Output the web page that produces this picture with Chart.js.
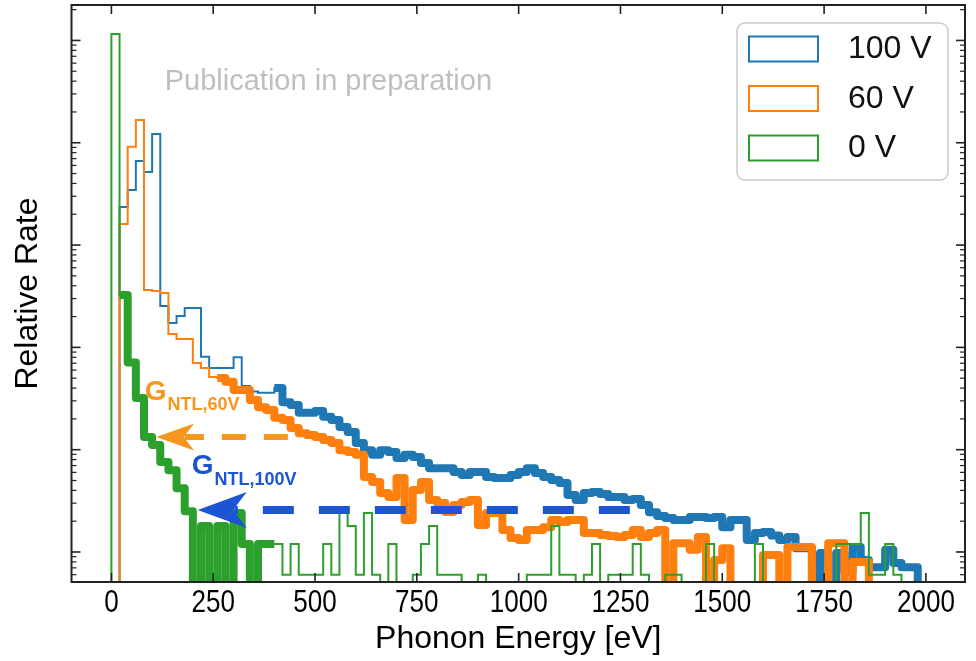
<!DOCTYPE html>
<html>
<head>
<meta charset="utf-8">
<title>Relative rate vs phonon energy</title>
<script src="https://cdn.jsdelivr.net/npm/chart.js@4.4.1/dist/chart.umd.min.js"></script>
<style>
	html, body { margin: 0; padding: 0; background: #fff; }
	#wrap { width: 976px; height: 661px; }
</style>
</head>
<body>
<div id="wrap"><canvas id="myChart" width="976" height="661"></canvas></div>
<script>
	// 20 eV bins, left edges + last right edge
	const binEdges = [0, 20, 40, 60, 80, 100, 120, 140, 160, 180, 200, 220, 240, 260, 280, 300, 320, 340, 360, 380,
		400, 420, 440, 460, 480, 500, 520, 540, 560, 580, 600, 620, 640, 660, 680, 700, 720, 740, 760, 780,
		800, 820, 840, 860, 880, 900, 920, 940, 960, 980, 1000, 1020, 1040, 1060, 1080, 1100, 1120, 1140, 1160, 1180,
		1200, 1220, 1240, 1260, 1280, 1300, 1320, 1340, 1360, 1380, 1400, 1420, 1440, 1460, 1480, 1500, 1520, 1540, 1560, 1580,
		1600, 1620, 1640, 1660, 1680, 1700, 1720, 1740, 1760, 1780, 1800, 1820, 1840, 1860, 1880, 1900, 1920, 1940, 1960, 1980, 2000];

	const seriesNames = ['100 V', '60 V', '0 V'];

	const rate100V = [0, 2360, 3460, 6640, 5180, 12200, 254, 173, 203, 243,
		243, 81, 63, 63, 63, 80, 42, 37, 36, 36,
		40, 29, 27.3, 22.9, 22.9, 23.9, 21, 19.5, 16.7, 14.9,
		11.6, 9.9, 8.9, 9.9, 9.5, 8.3, 8.9, 8.5, 7.4, 6.6,
		6.6, 6.6, 6.05, 5.66, 6.05, 6.05, 5.41, 5.29, 5.29, 5.66,
		6.05, 6.6, 5.92, 5.41, 5.05, 4.73, 3.6, 3.22, 3.77, 3.86,
		3.69, 3.45, 3.45, 3.22, 3.3, 2.88, 2.45, 2.25, 2.15, 2.05,
		2.05, 2.2, 2.2, 2.15, 2.2, 1.75, 2.05, 2.05, 1.31, 1.53,
		1.57, 1.45, 1.31, 1.4, 1.09, 1.09, 0, 0.98, 0, 0.98,
		0.64, 1.12, 0.835, 0.71, 0.71, 1.05, 0.78, 0.71, 0.71, 0];

	const rate60V = [0, 1610, 9160, 16700, 364, 356, 340, 135, 121, 121,
		70.4, 62.9, 51.4, 50.2, 46, 38.3, 38.3, 30.6, 26, 24.4,
		20.5, 19.5, 16.3, 14.5, 13.9, 13.3, 12.4, 11.6, 9.9, 9.5,
		8.9, 5.41, 4.83, 3.77, 3.45, 5.29, 2.05, 4.04, 4.83, 3.22,
		3.01, 2.46, 2.88, 3.08, 3.22, 1.84, 2.4, 2.4, 1.64, 1.37,
		1.31, 1.64, 1.64, 1.75, 2.05, 1.96, 2.05, 2.05, 1.53, 1.53,
		1.47, 1.43, 1.4, 1.47, 1.64, 1.4, 1.53, 1.64, 0, 1.22,
		1.22, 1.05, 1.4, 0, 0.835, 1.09, 0, 0, 0, 0,
		0.935, 0.935, 0, 1.12, 1.12, 1.12, 0, 0, 1.22, 1.22,
		0, 0.8, 0.8, 0, 0, 0, 0, 0, 0, 0];

	const rate0V = [115800, 325, 71, 32, 13.3, 11.1, 7.6, 6.3, 4.2, 2.5,
		0, 1.8, 0, 1.8, 0, 2.4, 1.2, 0, 1.2, 1.2,
		1.2, 0.6, 1.2, 0.6, 0.6, 0.6, 1.2, 0.6, 2.4, 1.8,
		0.6, 2.4, 0.6, 0, 1.2, 0, 0, 0.6, 1.2, 1.8,
		0.6, 0.6, 0.6, 0, 0, 0.6, 0, 0, 0, 0,
		0, 0.6, 0.6, 0.6, 1.8, 0.6, 0.6, 0, 0.6, 1.2,
		0, 0.6, 0.6, 0.6, 1.2, 0.6, 0, 0, 0.6, 0.6,
		0, 0, 0, 1.2, 0, 0, 0, 0, 0, 1.2,
		0, 0, 0, 0, 0, 0, 0, 0, 0, 1.2,
		1.2, 1.2, 2.4, 0.6, 0.6, 1.2, 0.6, 0, 0, 0];

	// energy windows drawn with the thick line [eV]
	const fit100V = [400, 2000];
	const fit60V = [260, 1880];
	const fit0V = [20, 400];

	const xTickValues = [0, 250, 500, 750, 1000, 1250, 1500, 1750, 2000];

	const colors = ['#1f77b4', '#ff7f0e', '#2ca02c'];
	const FLOOR = 1e-3; // empty bins: below the log axis, clipped away
	const labelFont = "'Liberation Sans', Arial, sans-serif";

	function histPoints(values) {
		const pts = [{x: binEdges[0], y: FLOOR}];
		values.forEach((v, k) => pts.push({x: binEdges[k], y: v > 0 ? v : FLOOR}));
		pts.push({x: binEdges[values.length], y: FLOOR});
		return pts;
	}

	function rangePoints(values, range) {
		const pts = [];
		let last = FLOOR, lastEdge = range[0];
		values.forEach((v, k) => {
			if (binEdges[k] >= range[0] && binEdges[k + 1] <= range[1]) {
				last = v > 0 ? v : FLOOR;
				pts.push({x: binEdges[k], y: last});
				lastEdge = binEdges[k + 1];
			}
		});
		pts.push({x: lastEdge, y: last});
		return pts;
	}

	function lineSet(label, data, color, width, order) {
		return {
			label: label,
			data: data,
			borderColor: color,
			backgroundColor: color,
			borderWidth: width,
			borderJoinStyle: width > 3 ? 'round' : 'miter',
			pointRadius: 0,
			pointHoverRadius: 0,
			fill: false,
			stepped: true,
			clip: 0,
			order: order
		};
	}

	const datasets = [
		lineSet(seriesNames[0], histPoints(rate100V), colors[0], 2, 6),
		lineSet(seriesNames[0] + ' fit', rangePoints(rate100V, fit100V), colors[0], 8, 5),
		lineSet(seriesNames[1], histPoints(rate60V), colors[1], 2, 4),
		lineSet(seriesNames[1] + ' fit', rangePoints(rate60V, fit60V), colors[1], 8, 3),
		lineSet(seriesNames[2], histPoints(rate0V), colors[2], 2, 2),
		lineSet(seriesNames[2] + ' fit', rangePoints(rate0V, fit0V), colors[2], 8, 1)
	];

	// inward ticks, frame, narrow tick labels, legend and the annotations
	const decor = {
		id: 'decor',
		afterDatasetsDraw(chart) {
			const {ctx, chartArea: a, scales: {x, y}} = chart;
			ctx.save();

			function seg(x0, y0, x1, y1) {
				ctx.beginPath(); ctx.moveTo(x0, y0); ctx.lineTo(x1, y1); ctx.stroke();
			}

			ctx.strokeStyle = '#222';
			ctx.lineWidth = 1.6;
			x.ticks.forEach(t => {
				const px = x.getPixelForValue(t.value);
				seg(px, a.bottom, px, a.bottom - 9);
				seg(px, a.top, px, a.top + 9);
			});
			for (let d = -1; d <= 6; d++) {
				for (let m = 1; m <= 9; m++) {
					const v = m * Math.pow(10, d);
					if (v < y.min || v > y.max) continue;
					const py = y.getPixelForValue(v);
					const len = m === 1 ? 9 : 5;
					ctx.lineWidth = m === 1 ? 1.6 : 1.2;
					seg(a.left, py, a.left + len, py);
					seg(a.right, py, a.right - len, py);
				}
			}
			ctx.lineWidth = 2;
			ctx.strokeRect(a.left, a.top, a.right - a.left, a.bottom - a.top);

			// tick labels in a condensed face (squeezed horizontally)
			ctx.fillStyle = '#000';
			ctx.font = '31px ' + labelFont;
			ctx.textAlign = 'center';
			ctx.textBaseline = 'alphabetic';
			x.ticks.forEach(t => {
				ctx.save();
				ctx.translate(x.getPixelForValue(t.value), a.bottom + 30);
				ctx.scale(0.84, 1);
				ctx.fillText(String(t.value), 0, 0);
				ctx.restore();
			});

			// watermark
			ctx.textAlign = 'left';
			ctx.fillStyle = '#bfbfbf';
			ctx.font = '29px ' + labelFont;
			ctx.fillText('Publication in preparation', x.getPixelForValue(131), y.getPixelForValue(32800));

			function gLabel(sub, xv, yv, color, drop) {
				const px = x.getPixelForValue(xv), py = y.getPixelForValue(yv);
				ctx.fillStyle = color;
				ctx.font = 'bold 28px ' + labelFont;
				ctx.fillText('G', px, py);
				const w = ctx.measureText('G').width;
				ctx.font = 'bold 18px ' + labelFont;
				ctx.fillText(sub, px + w + 1, py + drop);
			}

			function arrow(fromE, toE, yv, color, width, dash, offset, headLen, headHalf) {
				const py = y.getPixelForValue(yv);
				const tail = x.getPixelForValue(fromE), tip = x.getPixelForValue(toE);
				ctx.strokeStyle = color;
				ctx.fillStyle = color;
				ctx.lineWidth = width;
				ctx.setLineDash(dash);
				ctx.lineDashOffset = offset;
				seg(tail, py, tip + headLen * 0.75, py);
				ctx.setLineDash([]);
				ctx.beginPath();
				ctx.moveTo(tip, py);
				ctx.lineTo(tip + headLen, py - headHalf);
				ctx.lineTo(tip + headLen * 0.72, py);
				ctx.lineTo(tip + headLen, py + headHalf);
				ctx.closePath();
				ctx.fill();
			}

			gLabel('NTL,60V', 82, 30.6, '#f7961c', 10);
			arrow(475, 110, 13.3, '#f7961c', 6, [24, 18], 25, 38, 13.5);
			gLabel('NTL,100V', 197, 5.79, '#1b55d3', 11);
			arrow(1273, 212, 2.57, '#1b55d3', 8, [31, 25], 0, 49, 18);

			// legend, upper right
			const lx = a.right - 228, ly = a.top + 18, lw = 211, lh = 157;
			ctx.beginPath();
			ctx.roundRect(lx, ly, lw, lh, 8);
			ctx.fillStyle = 'rgba(255,255,255,0.8)';
			ctx.fill();
			ctx.strokeStyle = '#cccccc';
			ctx.lineWidth = 1.5;
			ctx.stroke();
			ctx.font = '32px ' + labelFont;
			ctx.textBaseline = 'middle';
			seriesNames.forEach((name, i) => {
				const cy = ly + 25.5 + i * 49.5;
				ctx.strokeStyle = colors[i];
				ctx.lineWidth = 2;
				ctx.fillStyle = '#fff';
				ctx.fillRect(lx + 12, cy - 12, 69, 25);
				ctx.strokeRect(lx + 12, cy - 12, 69, 25);
				ctx.fillStyle = '#111';
				ctx.fillText(name, lx + 111, cy + 1);
			});

			ctx.restore();
		}
	};

	const ctx = document.getElementById('myChart').getContext('2d');
	const myChart = new Chart(ctx, {
		type: 'line',
		data: {datasets: datasets},
		plugins: [decor],
		options: {
			responsive: false,
			animation: false,
			events: [],
			layout: {padding: {top: 5, right: 11, left: 0, bottom: 0}},
			plugins: {legend: {display: false}, tooltip: {enabled: false}},
			scales: {
				x: {
					type: 'linear',
					min: -98,
					max: 2096,
					afterBuildTicks: s => { s.ticks = xTickValues.map(v => ({value: v})); },
					afterFit: s => { s.height = 79; },
					grid: {display: false, drawTicks: false},
					border: {display: false},
					ticks: {display: false},
					title: {
						display: true,
						text: 'Phonon Energy [eV]',
						font: {family: labelFont, size: 32},
						color: '#000',
						padding: {top: 0, bottom: 3}
					}
				},
				y: {
					type: 'logarithmic',
					min: 0.509,
					max: 222000,
					afterFit: s => { s.width = 71.5; },
					grid: {display: false, drawTicks: false},
					border: {display: false},
					ticks: {display: false},
					title: {
						display: true,
						text: 'Relative Rate',
						font: {family: labelFont, size: 32},
						color: '#000',
						padding: {top: 9, bottom: 0}
					}
				}
			}
		}
	});
</script>
</body>
</html>
